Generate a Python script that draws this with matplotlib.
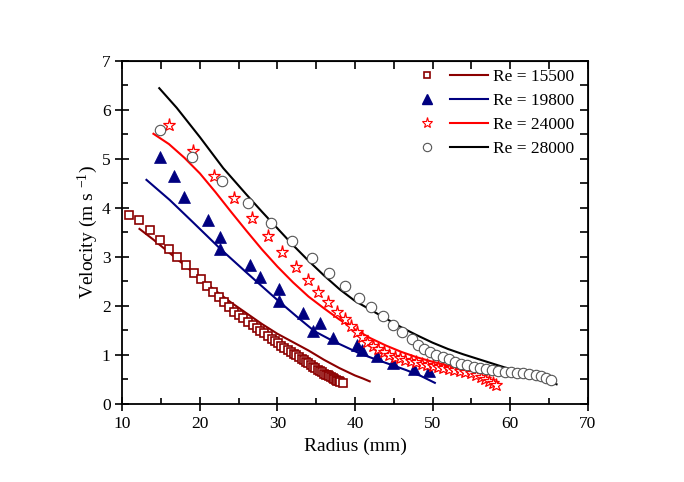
import matplotlib
matplotlib.use("Agg")
import matplotlib.pyplot as plt
from matplotlib.lines import Line2D
from matplotlib.legend_handler import HandlerTuple
from matplotlib.ticker import MultipleLocator

plt.rcParams['font.family'] = ['Liberation Serif', 'DejaVu Serif']
plt.rcParams['mathtext.fontset'] = 'custom'
plt.rcParams['mathtext.rm'] = 'Liberation Serif'
plt.rcParams['mathtext.it'] = 'Liberation Serif:italic'

labels = ["Re = 15500", "Re = 19800", "Re = 24000", "Re = 28000"]
colors = ["#8B0000", "#000080", "#FF0000", "#000000"]

# Measured points
sq_x = [10.9, 12.2, 13.5, 14.8, 16.0, 17.1, 18.2, 19.2, 20.1, 20.9, 21.7, 22.4, 23.1, 23.8, 24.4,
        25.0, 25.6, 26.2, 26.8, 27.3, 27.8, 28.3, 28.8, 29.3, 29.7, 30.1, 30.5, 30.9, 31.3, 31.7,
        32.1, 32.4, 32.8, 33.1, 33.4, 33.7, 34.0, 34.3, 34.6, 34.9, 35.2, 35.5, 35.7, 36.0, 36.2,
        36.5, 36.7, 36.9, 37.1, 37.3, 37.5, 37.7, 37.9, 38.1, 38.4]
sq_y = [3.85, 3.75, 3.54, 3.35, 3.16, 2.99, 2.83, 2.68, 2.54, 2.41, 2.29, 2.18, 2.07, 1.97, 1.88,
        1.82, 1.76, 1.68, 1.60, 1.54, 1.49, 1.44, 1.38, 1.32, 1.28, 1.24, 1.19, 1.15, 1.10, 1.06,
        1.02, 0.99, 0.95, 0.92, 0.89, 0.86, 0.83, 0.80, 0.76, 0.73, 0.70, 0.67, 0.65, 0.62, 0.60,
        0.58, 0.56, 0.54, 0.53, 0.51, 0.49, 0.47, 0.46, 0.44, 0.43]

tri_x = [14.8, 16.6, 18.0, 21.0, 22.65, 22.65, 26.4, 27.7, 30.2, 30.2, 33.3, 34.6, 35.5, 37.1,
         40.2, 40.9, 42.8, 44.9, 47.6, 49.5]
tri_y = [5.03, 4.65, 4.22, 3.76, 3.41, 3.16, 2.84, 2.58, 2.34, 2.10, 1.85, 1.48, 1.66, 1.34,
         1.20, 1.09, 0.97, 0.83, 0.71, 0.67]

star_x = [16.0, 19.1, 21.8, 24.4, 26.7, 28.8, 30.6, 32.4, 33.9, 35.2, 36.5, 37.7, 38.7, 39.5,
          40.2, 40.9, 41.6, 42.3, 43.0, 43.7, 44.4, 45.1, 45.8, 46.5, 47.2, 47.9, 48.6, 49.3,
          50.0, 50.7, 51.4, 52.1, 52.8, 53.5, 54.2, 54.9, 55.6, 56.2, 56.8, 57.3, 57.8, 58.2]
star_y = [5.68, 5.15, 4.65, 4.20, 3.79, 3.43, 3.09, 2.80, 2.53, 2.29, 2.08, 1.88, 1.73, 1.59,
          1.46, 1.36, 1.27, 1.19, 1.11, 1.05, 1.00, 0.96, 0.93, 0.90, 0.87, 0.85, 0.82, 0.80,
          0.78, 0.76, 0.74, 0.72, 0.70, 0.68, 0.66, 0.63, 0.59, 0.55, 0.50, 0.46, 0.42, 0.38]

circ_x = [14.8, 19.0, 22.8, 26.2, 29.2, 31.9, 34.4, 36.6, 38.7, 40.5, 42.1, 43.6, 44.9, 46.1,
          47.3, 48.1, 48.9, 49.7, 50.5, 51.3, 52.1, 52.9, 53.7, 54.5, 55.3, 56.1, 56.9, 57.7,
          58.5, 59.3, 60.1, 60.9, 61.7, 62.5, 63.3, 64.0, 64.7, 65.3]
circ_y = [5.59, 5.03, 4.55, 4.10, 3.69, 3.33, 2.97, 2.68, 2.41, 2.17, 1.98, 1.79, 1.61, 1.46,
          1.32, 1.21, 1.12, 1.05, 0.99, 0.95, 0.91, 0.86, 0.82, 0.79, 0.76, 0.73, 0.71, 0.69,
          0.67, 0.66, 0.65, 0.64, 0.63, 0.61, 0.59, 0.56, 0.53, 0.49]

# Model curves
l1_x = [12.2, 14.0, 16.0, 18.0, 20.0, 22.0, 24.0, 26.0, 28.0, 30.0, 32.0, 34.0, 36.0, 38.0, 40.0, 41.0, 41.9]
l1_y = [3.57, 3.35, 3.09, 2.83, 2.56, 2.31, 2.07, 1.85, 1.63, 1.43, 1.26, 1.09, 0.90, 0.73, 0.58, 0.52, 0.46]

l2_x = [13.1, 16.1, 19.0, 22.65, 26.0, 30.2, 32.5, 34.8, 37.2, 40.6, 42.3, 45.0, 46.6, 48.5, 50.3]
l2_y = [4.57, 4.16, 3.72, 3.16, 2.68, 2.09, 1.78, 1.48, 1.28, 1.03, 0.93, 0.78, 0.69, 0.57, 0.43]

l3_x = [14.0, 16.0, 18.0, 20.0, 22.0, 24.0, 26.0, 28.0, 30.0, 32.0, 34.0, 36.0, 38.0, 40.0,
        42.0, 44.0, 46.0, 48.0, 50.0, 52.0, 54.0, 56.0, 57.0, 58.2]
l3_y = [5.51, 5.30, 5.02, 4.70, 4.32, 3.92, 3.53, 3.15, 2.80, 2.48, 2.19, 1.95, 1.72, 1.52,
        1.34, 1.19, 1.06, 0.95, 0.86, 0.78, 0.70, 0.61, 0.54, 0.43]

l4_x = [14.75, 17.0, 20.0, 23.0, 26.0, 28.0, 30.0, 32.0, 34.0, 36.0, 38.0, 40.0, 42.0, 44.0,
        46.0, 48.0, 50.0, 52.0, 54.0, 56.0, 58.0, 60.0, 62.0, 64.0, 66.0]
l4_y = [6.44, 6.04, 5.44, 4.81, 4.27, 3.92, 3.58, 3.24, 2.92, 2.62, 2.34, 2.10, 1.92, 1.74,
        1.56, 1.40, 1.25, 1.12, 1.01, 0.91, 0.81, 0.71, 0.62, 0.51, 0.40]

x_ticks = [10, 20, 30, 40, 50, 60, 70]
y_ticks = [0, 1, 2, 3, 4, 5, 6, 7]

fig = plt.figure(figsize=(6.84, 4.82), dpi=100)
ax = fig.add_axes([0.179, 0.162, 0.680, 0.712])

lw = 1.5
ax.plot(l1_x, l1_y, color=colors[0], lw=lw)
ax.plot(l2_x, l2_y, color=colors[1], lw=lw)
ax.plot(l3_x, l3_y, color=colors[2], lw=lw)
ax.plot(l4_x, l4_y, color=colors[3], lw=lw)

ax.plot(sq_x, sq_y, ls='none', marker='s', ms=5.5, mfc='white', mec=colors[0], mew=1.2)
ax.plot(tri_x, tri_y, ls='none', marker='^', ms=8, mfc=colors[1], mec=colors[1], mew=0.5)
ax.plot(star_x, star_y, ls='none', marker='*', ms=9.5, mfc='white', mec=colors[2], mew=0.9)
ax.plot(circ_x, circ_y, ls='none', marker='o', ms=7.5, mfc='white', mec='#555555', mew=0.8)

ax.set_xlim(10, 70)
ax.set_ylim(0, 7)
ax.set_xticks(x_ticks)
ax.set_yticks(y_ticks)
ax.xaxis.set_minor_locator(MultipleLocator(5))
ax.yaxis.set_minor_locator(MultipleLocator(0.5))
ax.tick_params(which='major', direction='inout', length=10, width=1.2, labelsize=12.5)
ax.tick_params(which='minor', direction='in', length=4, width=1.2)
for s in ax.spines.values():
    s.set_linewidth(1.3)

top = ax.secondary_xaxis('top')
top.xaxis.set_major_locator(MultipleLocator(5))
top.tick_params(direction='in', length=6, width=1.2, labeltop=False)
right = ax.secondary_yaxis('right')
right.yaxis.set_major_locator(MultipleLocator(0.5))
right.tick_params(direction='in', length=6, width=1.2, labelright=False)

ax.set_xlabel("Radius (mm)", fontsize=14, labelpad=4)
ax.set_ylabel("Velocity (m s $^{-1}$)", fontsize=14, labelpad=1)

mk = [
    Line2D([], [], ls='none', marker='s', ms=5, mfc='white', mec=colors[0], mew=1.2),
    Line2D([], [], ls='none', marker='^', ms=7, mfc=colors[1], mec=colors[1]),
    Line2D([], [], ls='none', marker='*', ms=8, mfc='white', mec=colors[2], mew=0.8),
    Line2D([], [], ls='none', marker='o', ms=6, mfc='white', mec='#555555', mew=0.8),
]
ln = [Line2D([], [], color=c, lw=lw) for c in colors]
handles = list(zip(mk, ln))
ax.legend(handles, labels, handler_map={tuple: HandlerTuple(ndivide=None, pad=0.2)},
          loc='upper right', bbox_to_anchor=(0.858, 0.882), bbox_transform=fig.transFigure,
          frameon=False, fontsize=12.5, handlelength=4.6, handletextpad=0.3,
          labelspacing=0.45, borderpad=0.2)

fig.savefig("out.png", dpi=100)
